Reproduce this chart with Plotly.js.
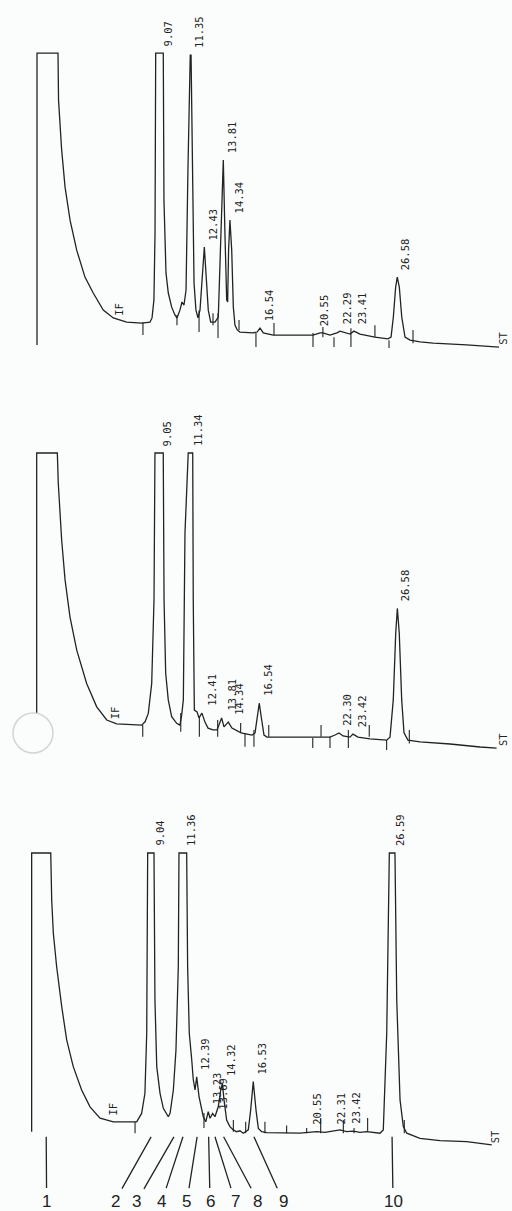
<!DOCTYPE html>
<html>
<head>
<meta charset="utf-8">
<script src="https://cdn.plot.ly/plotly-3.0.1.min.js"></script>
<style>
html,body{margin:0;padding:0;background:#fbfdfd;}
#chart{width:512px;height:1211px;}
</style>
</head>
<body>
<div id="chart"></div>
<script>
// ---------- Chromatogram 1 (top) : time (min) / detector signal (% full scale) ----------
const time1 = [0,0,1.55,1.59,1.82,2.07,2.44,2.93,3.54,4.15,4.89,5.63,6.62,7.73,8.34,8.49,8.63,8.71,8.76,9.32,9.37,9.52,9.69,9.94,10.18,10.33,10.55,10.7,10.85,11.0,11.14,11.31,11.37,11.48,11.59,11.73,11.88,12.03,12.23,12.35,12.47,12.64,12.82,13.14,13.38,13.56,13.75,13.87,14.0,14.07,14.14,14.24,14.37,14.49,14.61,14.78,14.98,15.94,16.24,16.46,16.7,17.44,20.37,20.89,21.1,21.62,22.14,22.36,22.73,23.1,23.39,23.84,24.94,25.9,26.13,26.3,26.47,26.59,26.74,26.92,27.16,27.53,28.27,29.25,31.71,34.1];
const signal1 = [2.7,100,100,84.3,67.7,55.3,44.3,34.3,25.3,20,14.3,11.7,10.3,10,10.3,11.7,17.7,40,100,100,51,26.7,20,15.3,12.7,11.7,14.3,17,16,21,61,99.3,99.3,61,23.3,14.3,11.7,14.3,26.7,35.3,26.7,14.3,10.3,10.3,12,40,64.3,40,17.7,17,34.3,44.3,34.3,15.3,9.3,7.7,7,6.7,7,8.3,6.7,6,6,6.7,6.7,6,6.7,7.3,6.7,6.3,7.3,6.3,5.3,4.7,5.3,12,22,25.3,22,12,5.3,4.3,3.7,3.3,2.7,2];
const eventTime1 = [7.82,10.33,11.96,12.99,13.36,14.91,16.16,17.49,20.37,21.1,21.92,23.17,24.94,25.98,27.75];
const eventHigh1 = [10.3,12.7,14.3,13.3,13.3,11,6.7,10,6.7,8.7,5.3,8.3,9.3,4.3,7.7];
const eventLow1  = [6,9.3,7,9.3,5,7.7,2,6,2,5.3,2,2,5.3,1.7,3.3];
const rtTime1   = [9.07,11.35,12.43,13.81,14.34,16.54,20.55,22.29,23.41,26.58];
const rtHeight1 = [100,99.3,35.3,64.3,44.3,8.3,6.7,7.3,7.3,25.3];

// ---------- Chromatogram 2 (middle) ----------
const time2 = [0.05,0.05,1.57,1.64,1.89,2.14,2.5,3.0,3.73,4.47,5.21,5.94,7.78,8.03,8.27,8.52,8.69,8.76,9.37,9.43,9.55,9.74,9.99,10.36,10.6,10.73,10.85,10.97,11.21,11.54,11.58,11.66,11.86,12.0,12.22,12.44,12.67,13.03,13.33,13.67,13.84,14.16,14.43,14.8,15.1,15.54,15.91,16.13,16.27,16.44,16.62,16.79,17.01,17.97,20.32,21.65,22.02,22.31,22.61,23.12,23.34,23.71,24.59,25.82,26.07,26.31,26.49,26.61,26.75,26.93,27.1,27.39,28.28,30.49,32.7,33.92];
const signal2 = [12,100,100,89.9,71,57.7,45.4,34.3,23.2,15.4,11,9.7,9.3,10.4,13.2,23.2,51,100,100,51,26.6,17.7,12.1,9.9,9.3,12.7,17.7,73.3,100,100,51,14.3,13.7,11.7,13.3,10.3,8.3,7.7,7.7,11.7,8.7,10.3,8.3,7.3,6.7,6.3,6,6.7,11,16.6,11,6,5.3,5.3,5.3,5.3,6,6.7,5.7,5.3,6.3,5.3,4.7,4.3,5.3,17.7,40,48.2,40,17.7,6.7,4.3,3.7,3,2,1.6];
const eventTime2 = [7.86,10.66,12.03,13.38,15.07,15.39,16.05,17.14,20.38,20.99,21.65,23.0,24.54,25.82,27.49];
const eventHigh2 = [9.3,13.3,12.1,11,10,6.7,7.7,9.3,5,9.3,5.4,7.7,9.3,4.3,7.7];
const eventLow2  = [5.4,7.1,5.4,5.4,6.7,2.1,2.1,5.4,1.7,5.4,1.7,1.7,5.4,1,3.2];
const rtTime2   = [9.05,11.34,12.41,13.81,14.34,16.54,22.30,23.42,26.58];
const rtHeight2 = [100,100,13.3,11.7,10.3,16.6,6.7,6.3,48.2];

// ---------- Chromatogram 3 (bottom) ----------
const time3 = [0.34,0.34,1.73,1.8,1.92,2.16,2.53,2.89,3.37,3.98,4.59,5.32,6.29,7.87,7.99,8.35,8.59,8.72,8.79,9.25,9.32,9.45,9.69,9.93,10.17,10.29,10.42,10.66,10.85,11.02,11.07,11.63,11.7,11.82,12.0,12.11,12.24,12.36,12.53,12.67,12.84,13.02,13.2,13.33,13.52,13.69,13.93,14.11,14.23,14.35,14.54,14.78,15.03,15.27,15.51,15.75,16.12,16.29,16.48,16.68,16.85,17.09,17.46,19.88,20.37,21.1,21.7,22.31,22.8,23.28,23.77,24.25,24.74,25.71,25.95,26.2,26.39,26.8,26.93,27.17,27.41,27.66,28.62,30.08,32.02,33.85];
const signal3 = [7.1,100,100,84.3,73.2,62.1,48.8,37.7,28.8,21,15.4,11.6,10.4,10.2,10.4,13.2,19.9,39.9,100,100,51,28.8,19.9,14.9,12.7,12.1,13.2,21,34.3,62.1,100,100,62.1,39.9,31,24.5,21,25.4,18.8,15.4,12.1,10.4,13.8,11.6,13.2,12.1,15.4,21,23.2,17.7,11,8.8,7.7,7.1,7.4,6.6,7.7,14.3,23.8,14.3,8.2,7.1,6.8,6.6,6.8,7.1,6.9,7.3,7.7,7.1,7.3,6.9,7.1,6.6,7.7,39.9,100,100,51,17.7,8.8,6.6,4.9,4.1,3.8,2.7];
const eventTime3 = [7.87,12.89,15.03,15.93,17.33,18.91,20.37,21.39,23.04,23.82,24.81,27.48];
const eventHigh3 = [10.4,13.3,11,10.4,10.4,9.2,8.3,11.7,11,8.3,11.7,11];
const eventLow3  = [6.6,8.3,7.1,6.6,6.6,6.6,6.6,6.6,6.6,6.6,7.3,6.6];
const rtTime3   = [9.04,11.36,12.39,13.23,13.69,14.32,16.53,20.55,22.31,23.42,26.59];
const rtHeight3 = [100,100,25.4,13.8,12.1,23.2,23.8,7.1,7.3,7.3,100];

// identified peaks (numbered) on chromatogram 3
const peakNumber = ['1','2','3','4','5','6','7','8','9','10'];
const peakTime   = [1.4,9.04,10.7,11.36,12.39,13.23,13.69,14.32,16.53,26.59];

// integrator event markers: IF (integration start) and ST (stop)
const ifTime = [5.4,5.2,5.7];
const stTime = [33.75,33.75,33.5];

// ---------- layout helpers (positions / styles) ----------
const ink = '#222222';
const bg = '#fbfdfd';
const xDomains = [[0.0458,0.9985],[0.0438,0.9986],[0.0259,0.9913]];
const yDomains = [[0.6961,0.9686],[0.3658,0.6383],[0.0355,0.3080]];
const labelFont = {family:'DejaVu Sans Mono, Liberation Mono, monospace', size:10.5, color:'#222222'};
const numberLabelX = [1.43,6.41,8.01,9.83,11.65,13.33,15.15,16.82,18.65,26.66];

const panels = [
  {t:time1, s:signal1, et:eventTime1, eh:eventHigh1, el:eventLow1, rt:rtTime1, rh:rtHeight1},
  {t:time2, s:signal2, et:eventTime2, eh:eventHigh2, el:eventLow2, rt:rtTime2, rh:rtHeight2},
  {t:time3, s:signal3, et:eventTime3, eh:eventHigh3, el:eventLow3, rt:rtTime3, rh:rtHeight3}
];

const traces = [];
const annotations = [];
const layout = {
  width:512, height:1211,
  margin:{l:0,r:0,t:0,b:0},
  paper_bgcolor:bg, plot_bgcolor:bg,
  showlegend:false,
  annotations:annotations,
  shapes:[{
    type:'circle', xref:'paper', yref:'paper',
    x0:0.0254, x1:0.1035, y0:0.3782, y1:0.4112,
    line:{color:'#d4d4d4', width:1.5}, fillcolor:bg, layer:'above'
  }]
};

panels.forEach((p, i) => {
  const n = i === 0 ? '' : String(i + 1);
  const xa = 'x' + n, ya = 'y' + n;
  layout['xaxis' + n] = {domain:xDomains[i], range:[-1,35], visible:false, fixedrange:true, anchor:ya};
  layout['yaxis' + n] = {domain:yDomains[i], range:[-5,105], visible:false, fixedrange:true, anchor:xa};

  traces.push({
    type:'scatter', mode:'lines', x:p.t, y:p.s, xaxis:xa, yaxis:ya,
    line:{color:ink, width:1.3}, hoverinfo:'skip'
  });
  const ex = [], ey = [];
  p.et.forEach((t, k) => { ex.push(t, t, null); ey.push(p.eh[k], p.el[k], null); });
  traces.push({
    type:'scatter', mode:'lines', x:ex, y:ey, xaxis:xa, yaxis:ya,
    line:{color:ink, width:1.1}, hoverinfo:'skip'
  });

  p.rt.forEach((t, k) => {
    annotations.push({
      xref:xa, yref:ya, x:t, y:p.rh[k], text:t.toFixed(2),
      textangle:-90, xanchor:'left', yanchor:'bottom', xshift:0, yshift:5,
      showarrow:false, font:labelFont
    });
  });
  annotations.push({
    xref:xa, yref:ya, x:ifTime[i], y:p.s[12], text:'IF', textangle:-90,
    xanchor:'left', yanchor:'bottom', yshift:4, showarrow:false, font:labelFont
  });
  annotations.push({
    xref:xa, yref:ya, x:stTime[i], y:p.s[p.s.length - 1], text:'ST', textangle:-90,
    xanchor:'left', yanchor:'bottom', yshift:0, showarrow:false, font:labelFont
  });
});

peakNumber.forEach((num, k) => {
  annotations.push({
    xref:'x3', yref:'y3', axref:'x3', ayref:'y3',
    x:peakTime[k], y:5.4, ax:numberLabelX[k], ay:-16,
    text:num, showarrow:true, arrowhead:0, arrowwidth:1.3, arrowcolor:ink,
    standoff:0, startstandoff:2,
    font:{family:'Liberation Sans, Arial, sans-serif', size:17, color:ink}
  });
});

Plotly.newPlot('chart', traces, layout, {staticPlot:true, displayModeBar:false});
</script>
</body>
</html>
